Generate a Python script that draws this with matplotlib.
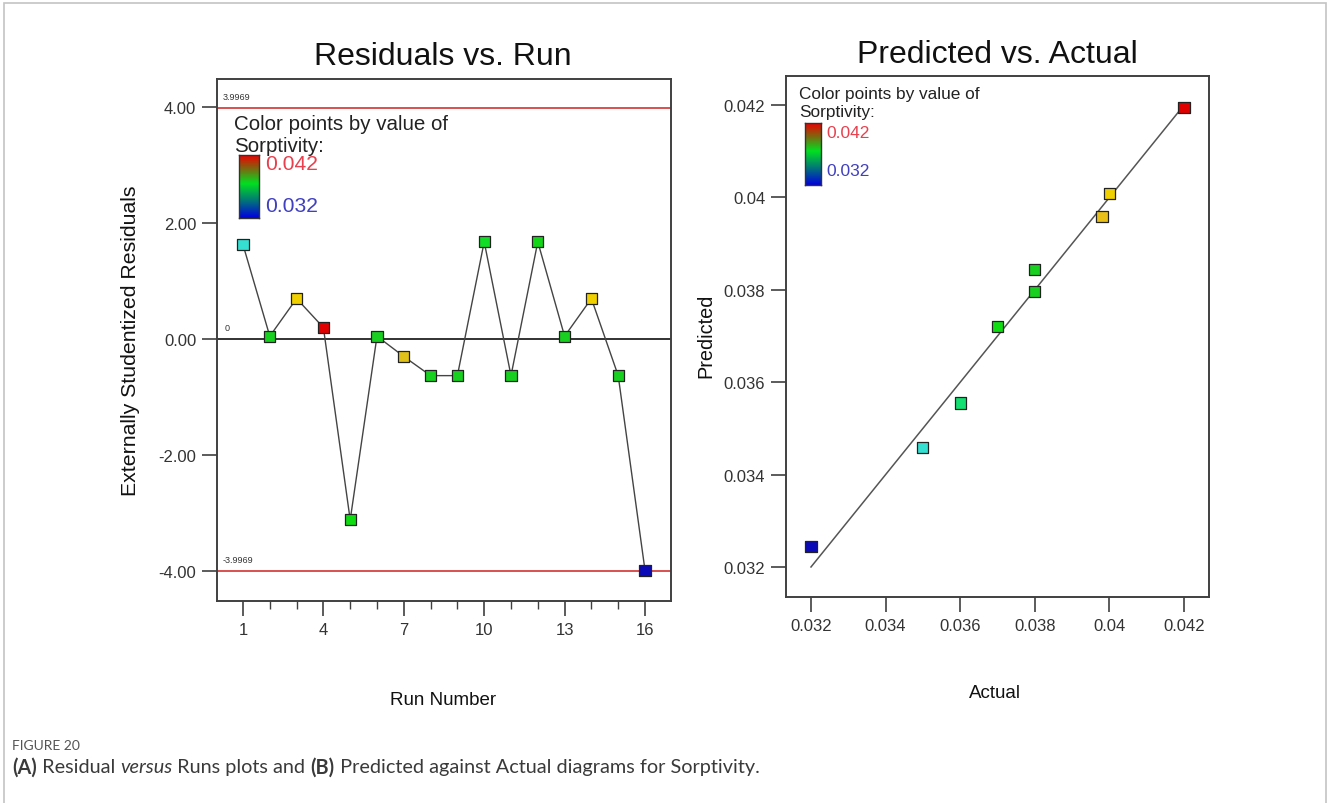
import matplotlib
matplotlib.use("Agg")
import matplotlib.pyplot as plt
import numpy as np
from matplotlib.colors import LinearSegmentedColormap, Normalize
from matplotlib.patches import Rectangle

plt.rcParams['font.family'] = ['Liberation Sans', 'DejaVu Sans']

# ---- data -------------------------------------------------------------
runs = np.arange(1, 17)
residuals = [1.63, 0.05, 0.70, 0.20, -3.12, 0.05, -0.30, -0.63,
             -0.63, 1.68, -0.63, 1.68, 0.05, 0.70, -0.63, -3.99]
run_sorptivity = [0.035, 0.038, 0.040, 0.042, 0.037, 0.038, 0.0397, 0.038,
                  0.038, 0.0368, 0.038, 0.0375, 0.038, 0.040, 0.038, 0.032]
limit_upper = 3.9969
limit_lower = -3.9969
run_ticks = [1, 4, 7, 10, 13, 16]
resid_ticks = [4.0, 2.0, 0.0, -2.0, -4.0]

actual = [0.032, 0.035, 0.036, 0.037, 0.038, 0.038, 0.0398, 0.040, 0.042]
predicted = [0.03245, 0.03459, 0.03555, 0.03721, 0.03797, 0.03845,
             0.03959, 0.04009, 0.04195]
pa_ticks = [0.032, 0.034, 0.036, 0.038, 0.04, 0.042]
pa_ticklabels = ["0.032", "0.034", "0.036", "0.038", "0.04", "0.042"]
s_min, s_max = 0.032, 0.042

# ---- colours ----------------------------------------------------------
point_cmap = LinearSegmentedColormap.from_list(
    "sorp_points",
    [(0.0, "#0a0ab8"), (0.3, "#35e0d2"), (0.4, "#12e070"), (0.5, "#10dc10"),
     (0.6, "#18d020"), (0.78, "#e8c018"), (0.8, "#f0d000"), (1.0, "#e00000")])
bar_cmap = LinearSegmentedColormap.from_list(
    "sorp_bar",
    [(0.0, "#0000e0"), (0.3, "#008070"), (0.55, "#00e020"), (0.78, "#7a6a10"),
     (1.0, "#f00000")])
norm = Normalize(s_min, s_max)

W, H = 1328, 804
fig = plt.figure(figsize=(W / 100, H / 100), dpi=100)
fig.patch.set_facecolor("white")


def fx(px):
    return px / W


def fy(py):
    return 1 - py / H


frame_col = "#404040"
tick_col = "#333333"

# outer panel border
fig.add_artist(Rectangle((fx(4), fy(830)), fx(1322), fy(4) - fy(830),
                         transform=fig.transFigure, fill=False,
                         edgecolor="#c4c4c4", linewidth=1.2, clip_on=False))


def style_axes(ax):
    for sp in ax.spines.values():
        sp.set_color(frame_col)
        sp.set_linewidth(1.4)
    ax.tick_params(direction="out", colors=frame_col, labelcolor=tick_col,
                   labelsize=12, width=1.2, length=11, pad=4)


def color_key(box, title_xy, lab_top, lab_bot, title_size, lab_size):
    # gradient bar with its labels
    cax = fig.add_axes([fx(box[0]), fy(box[3]), fx(box[2] - box[0]),
                        fy(box[1]) - fy(box[3])])
    grad = np.linspace(0, 1, 200).reshape(-1, 1)
    cax.imshow(grad, aspect="auto", cmap=bar_cmap, origin="lower")
    cax.set_xticks([])
    cax.set_yticks([])
    for sp in cax.spines.values():
        sp.set_color("#333333")
        sp.set_linewidth(1.0)
    fig.text(fx(title_xy[0]), fy(title_xy[1]), "Color points by value of",
             fontsize=title_size, color="#222222", va="center", ha="left")
    fig.text(fx(title_xy[0]), fy(title_xy[2]), "Sorptivity:",
             fontsize=title_size, color="#222222", va="center", ha="left")
    fig.text(fx(lab_top[0]), fy(lab_top[1]), f"{s_max:.3f}", fontsize=lab_size,
             color="#e8404e", va="center", ha="left")
    fig.text(fx(lab_bot[0]), fy(lab_bot[1]), f"{s_min:.3f}", fontsize=lab_size,
             color="#4040c0", va="center", ha="left")


# ---- (A) residuals vs run --------------------------------------------
ax1 = fig.add_axes([fx(217), fy(602), fx(671 - 217), fy(80) - fy(602)])
style_axes(ax1)
ax1.set_xlim(0.03, 16.97)
ax1.set_ylim(-4.52, 4.49)
ax1.axhline(limit_upper, color="#d02020", lw=1.1, zorder=1)
ax1.axhline(limit_lower, color="#d02020", lw=1.1, zorder=1)
ax1.axhline(0, color="#222222", lw=1.3, zorder=1)
ax1.text(0.25, limit_upper + 0.12, f"{limit_upper:.4f}", fontsize=6.5,
         color="#333333", va="bottom")
ax1.text(0.25, limit_lower + 0.12, f"{limit_lower:.4f}", fontsize=6.5,
         color="#333333", va="bottom")
ax1.text(0.3, 0.12, "0", fontsize=6.5, color="#333333", va="bottom")
ax1.plot(runs, residuals, color="#444444", lw=1.0, zorder=2)
ax1.scatter(runs, residuals, marker="s", s=64,
            c=[point_cmap(norm(v)) for v in run_sorptivity],
            edgecolors="#222222", linewidths=0.9, zorder=3)
ax1.set_xticks(run_ticks)
ax1.set_xticks(runs, minor=True)
ax1.tick_params(axis="x", which="minor", length=6, width=1.0, colors=frame_col)
ax1.set_yticks(resid_ticks)
ax1.set_yticklabels([f"{v:.2f}" for v in resid_ticks])
ax1.set_xticklabels([str(v) for v in run_ticks])
fig.text(fx(443), fy(57), "Residuals vs. Run", fontsize=23, ha="center",
         va="center", color="#111111")
fig.text(fx(131), fy(341), "Externally Studentized Residuals", fontsize=15.3,
         rotation=90, ha="center", va="center", color="#111111")
fig.text(fx(443), fy(701), "Run Number", fontsize=13.5, ha="center",
         va="center", color="#111111")
color_key((239, 156, 259, 219), (234, 125, 146), (265, 165), (265, 206),
          14.8, 15.2)

# ---- (B) predicted vs actual -----------------------------------------
ax2 = fig.add_axes([fx(786), fy(598), fx(1209 - 786), fy(77) - fy(598)])
style_axes(ax2)
ax2.set_xlim(0.03133, 0.04267)
ax2.set_ylim(0.03135, 0.04263)
ax2.plot([s_min, s_max], [s_min, s_max], color="#555555", lw=1.1, zorder=1)
ax2.scatter(actual, predicted, marker="s", s=64,
            c=[point_cmap(norm(v)) for v in actual],
            edgecolors="#222222", linewidths=0.9, zorder=3)
ax2.set_xticks(pa_ticks)
ax2.set_xticklabels(pa_ticklabels)
ax2.set_yticks(pa_ticks)
ax2.set_yticklabels(pa_ticklabels)
fig.text(fx(997), fy(55), "Predicted vs. Actual", fontsize=23, ha="center",
         va="center", color="#111111")
fig.text(fx(706), fy(336), "Predicted", fontsize=14.3, rotation=90,
         ha="center", va="center", color="#111111")
fig.text(fx(995), fy(694), "Actual", fontsize=13.5, ha="center",
         va="center", color="#111111")
color_key((805, 124, 821, 186), (799, 95, 113), (826, 133), (826, 172),
          12.4, 12.5)

# ---- caption ----------------------------------------------------------
cap_font = ["Lato", "DejaVu Sans"]
fig.text(fx(12), fy(746), "FIGURE 20", fontsize=10, color="#555555",
         family=cap_font, va="center")
pieces = [("(A)", "bold", "normal"), (" Residual ", "normal", "normal"),
          ("versus", "normal", "italic"), (" Runs plots and ", "normal", "normal"),
          ("(B)", "bold", "normal"),
          (" Predicted against Actual diagrams for Sorptivity.", "normal", "normal")]
renderer = fig.canvas.get_renderer()
x = 12
for txt, wt, st in pieces:
    t = fig.text(fx(x), fy(768), txt, fontsize=14.3, color="#3a3a3a",
                 family=cap_font, weight=wt, style=st, va="center", ha="left")
    bb = t.get_window_extent(renderer=renderer)
    x += bb.width

fig.savefig("out.png", dpi=100, facecolor="white")
